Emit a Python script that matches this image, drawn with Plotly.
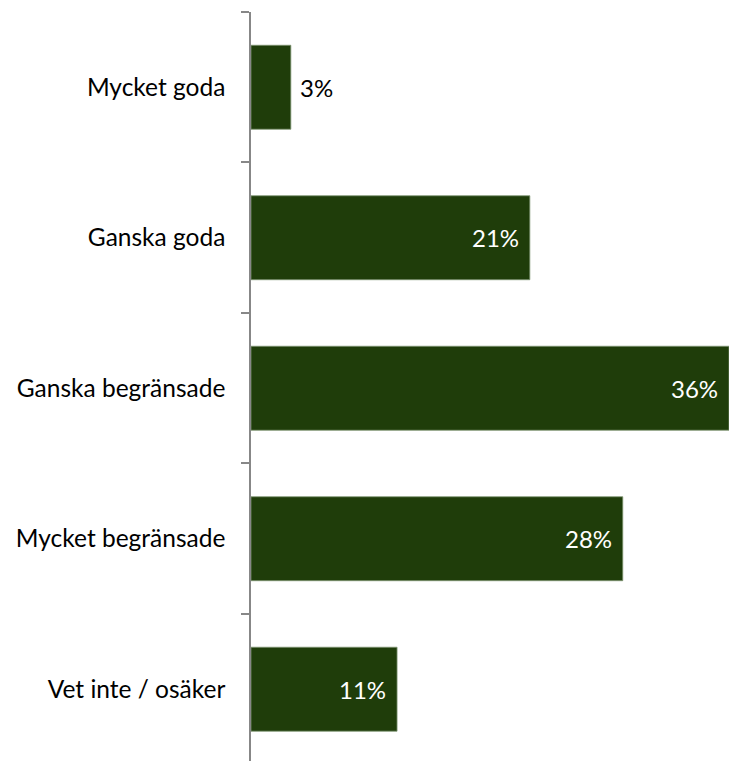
import plotly.graph_objects as go

# Survey answer categories (top to bottom) and their shares in percent
categories = [
    "Mycket goda",
    "Ganska goda",
    "Ganska begränsade",
    "Mycket begränsade",
    "Vet inte / osäker",
]
shares = [3, 21, 36, 28, 11]

BAR_COLOR = "#1f3d0a"
AXIS_GRAY = "#878787"
FONT = "Lato"

fig = go.Figure(
    go.Bar(
        x=shares,
        y=categories,
        orientation="h",
        marker=dict(color=BAR_COLOR, line=dict(color="#7f9572", width=0.8)),
        hoverinfo="skip",
    )
)

# Value labels: inside the bar end, except very short bars which get the label outside
for cat, val in zip(categories, shares):
    inside = val >= 8
    fig.add_annotation(
        x=val,
        y=cat,
        xref="x",
        yref="y",
        text=f"{val}%",
        showarrow=False,
        xanchor="right" if inside else "left",
        xshift=-9 if inside else 7,
        font=dict(family=FONT, size=24, color="white" if inside else "black"),
    )

fig.update_layout(
    width=729,
    height=761,
    margin=dict(l=251, r=0, t=12, b=0, pad=0),
    paper_bgcolor="white",
    plot_bgcolor="white",
    bargap=0.442,
    showlegend=False,
    font=dict(family=FONT, size=24, color="black"),
)

fig.update_xaxes(
    range=[0, 36],
    visible=False,
    showgrid=False,
    zeroline=False,
)

fig.update_yaxes(
    type="category",
    categoryorder="array",
    categoryarray=categories,
    range=[4.477, -0.5],
    showline=True,
    linecolor=AXIS_GRAY,
    linewidth=1.5,
    ticks="outside",
    tickson="boundaries",
    ticklen=8,
    tickwidth=1.5,
    tickcolor=AXIS_GRAY,
    ticklabelstandoff=19,
    showgrid=False,
    zeroline=False,
    tickfont=dict(family=FONT, size=24.5, color="black"),
)

fig.write_html("out.html")
